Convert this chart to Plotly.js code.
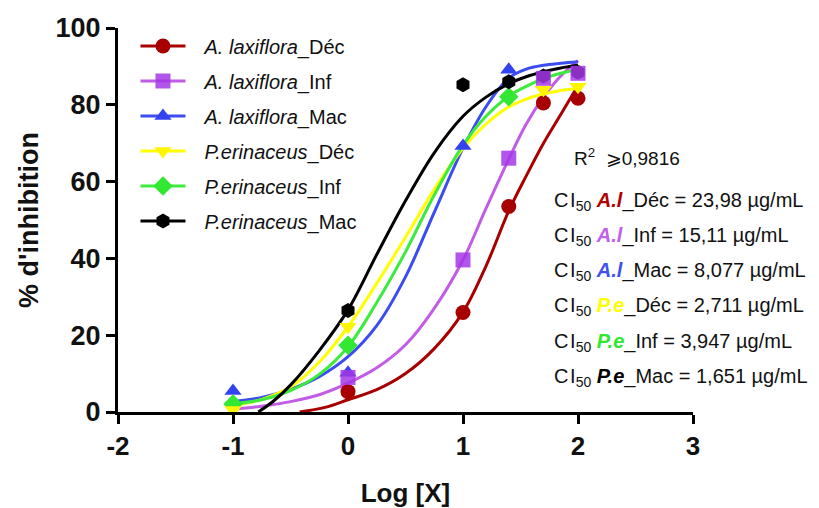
<!DOCTYPE html>
<html>
<head>
<meta charset="utf-8">
<script src="https://cdn.plot.ly/plotly-3.0.1.min.js"></script>
<style>html,body{margin:0;padding:0;background:#fff;}#chart{width:819px;height:508px;}</style>
</head>
<body>
<div id="chart"></div>
<script>
// Measured data points (log concentration)
const logX = [-1, 0, 1, 1.398, 1.699, 2];
const alDec = [null, 5.3, 25.9, 53.5, 80.5, 81.7];
const alInf = [null, 9.0, 39.6, 66.1, 86.9, 88.2];
const alMac = [5.5, 10.2, 69.3, 89.1, null, null];
const peDec = [0.5, 22.2, null, null, 83.9, 84.7];
const peInf = [2.1, 17.4, null, 82.1, null, null];
const peMac = [null, 26.4, 85.2, 86.0, 87.5, 88.5];

// Fitted curves
const curveX = [-1, -0.75, -0.5, -0.25, 0, 0.25, 0.5, 0.75, 1, 1.2, 1.4, 1.55, 1.7, 1.85, 2];
const redCurveX = [-0.42, -0.2, 0, 0.25, 0.5, 0.75, 1, 1.2, 1.4, 1.55, 1.7, 1.85, 2];
const blackCurveX = [-0.78, -0.65, -0.5, -0.25, 0, 0.25, 0.5, 0.75, 1, 1.2, 1.4, 1.55, 1.7, 1.85, 2];
const alDecCurve = [0, 1.2, 3.2, 5.8, 10, 16.5, 26, 38, 52.5, 61.5, 70, 77.5, 85];
const alInfCurve = [0.8, 1.5, 2.7, 4.5, 7.5, 11.5, 17.5, 27, 39.6, 53, 66, 75, 82, 87.5, 91.5];
const alMacCurve = [2.7, 3.8, 5.9, 9.2, 14.4, 22.5, 35.2, 52, 68.7, 79.5, 87, 89.3, 90.3, 90.8, 91.2];
const peDecCurve = [1.6, 3.3, 6.5, 13, 22.2, 33.5, 45.5, 58, 68.7, 75, 79.5, 81.5, 82.8, 83.7, 84.3];
const peInfCurve = [2.1, 3.2, 5.6, 9.8, 17, 28.5, 41.7, 56.5, 69.5, 77, 82.3, 84.8, 86.8, 88.2, 89.2];
const peMacCurve = [0, 2.8, 7, 16, 26.6, 41, 55, 67.5, 77, 82, 85.5, 87.3, 88.6, 89.6, 90.3];

const seriesNames = [
  '<i>A. laxiflora</i>_Déc', '<i>A. laxiflora</i>_Inf', '<i>A. laxiflora</i>_Mac',
  '<i>P.erinaceus</i>_Déc', '<i>P.erinaceus</i>_Inf', '<i>P.erinaceus</i>_Mac'
];
const ic50Labels = ['A.l', 'A.l', 'A.l', 'P.e', 'P.e', 'P.e'];
const ic50Parts = ['_Déc', '_Inf', '_Mac', '_Déc', '_Inf', '_Mac'];
const ic50Values = ['23,98', '15,11', '8,077', '2,711', '3,947', '1,651'];
const r2Text = '0,9816';

const lineColors = ['#A80000', '#C25BE6', '#3B4CF0', '#FFFF00', '#3DEB3D', '#000000'];
const markerColors = ['#A80000', 'rgba(165,55,230,0.85)', '#3343F0', '#FFF500', '#33E833', '#000000'];
const symbols = ['circle', 'square', 'triangle-up', 'triangle-down', 'diamond', 'hexagon'];
const textColors = ['#B00000', '#C060E8', '#4050F0', '#FFFF00', '#30E830', '#000000'];

const pts = [alDec, alInf, alMac, peDec, peInf, peMac];
const curvesY = [alDecCurve, alInfCurve, alMacCurve, peDecCurve, peInfCurve, peMacCurve];
const curvesX = [redCurveX, curveX, curveX, curveX, curveX, blackCurveX];

const traces = [];
// curves first (below the points)
for (let i = 0; i < 6; i++) {
  traces.push({
    x: curvesX[i], y: curvesY[i], mode: 'lines', type: 'scatter',
    line: {color: lineColors[i], width: 3, shape: 'spline', smoothing: 1},
    showlegend: false, hoverinfo: 'skip', legendgroup: 'g' + i, cliponaxis: false
  });
}
// points: isolated points separated by null so only markers are drawn, legend shows line+marker
const drawOrder = [0, 2, 4, 3, 5, 1];
drawOrder.forEach(i => {
  const xs = [], ys = [];
  logX.forEach((v, k) => { if (pts[i][k] !== null) { xs.push(v, null); ys.push(pts[i][k], null); } });
  traces.push({
    x: xs, y: ys, mode: 'lines+markers', type: 'scatter', connectgaps: false,
    name: '\u2002\u2009' + seriesNames[i], legendgroup: 'g' + i, legendrank: i + 1,
    line: {color: lineColors[i], width: 3},
    marker: {symbol: symbols[i], color: markerColors[i], size: 15, line: {width: 0}},
    cliponaxis: false
  });
});

const annotations = [];
annotations.push({
  xref: 'x', yref: 'y', x: 1.95, y: 66.4, xanchor: 'left', yanchor: 'middle', showarrow: false,
  text: 'R<sup>2</sup>  ⩾' + r2Text, font: {family: 'Liberation Sans, Arial', size: 19, color: '#111'}
});
const rowY = [54.9, 45.8, 36.7, 27.4, 18.2, 8.9];
for (let i = 0; i < 6; i++) {
  annotations.push({
    xref: 'x', yref: 'y', x: 1.77, y: rowY[i], xanchor: 'left', yanchor: 'middle', showarrow: false,
    text: 'C\u200aI<sub>50</sub> <b><i><span style="color:' + textColors[i] + '">' + ic50Labels[i] + '</span></i></b>' +
          ic50Parts[i] + ' = ' + ic50Values[i] + ' µg/mL',
    font: {family: 'Liberation Sans, Arial', size: 20, color: '#111'}
  });
}

const layout = {
  width: 819, height: 508,
  margin: {l: 118, r: 126, t: 28, b: 96},
  paper_bgcolor: '#fff', plot_bgcolor: '#fff',
  font: {family: 'Liberation Sans, Arial', color: '#000'},
  showlegend: true,
  legend: {
    x: 0.0304, y: 1.004, xanchor: 'left', yanchor: 'top',
    font: {family: 'Liberation Sans, Arial', size: 20, color: '#111'},
    tracegroupgap: 6, itemwidth: 45, bgcolor: 'rgba(0,0,0,0)', traceorder: 'grouped'
  },
  xaxis: {
    range: [-2, 3], tickvals: [-2, -1, 0, 1, 2, 3], ticktext: ['-2', '-1', '0', '1', '2', '3'],
    showgrid: false, zeroline: false, showline: true, linecolor: '#000', linewidth: 3,
    ticks: 'outside', ticklen: 9, tickwidth: 3, tickcolor: '#000',
    tickfont: {family: 'Liberation Sans, Arial', size: 26, color: '#111', weight: 'bold'},
    title: {text: '<b>Log [X]</b>', font: {family: 'Liberation Sans, Arial', size: 26, color: '#111'}, standoff: 24}
  },
  yaxis: {
    range: [0, 100], tickvals: [0, 20, 40, 60, 80, 100],
    showgrid: false, zeroline: false, showline: true, linecolor: '#000', linewidth: 3,
    ticks: 'outside', ticklen: 9, tickwidth: 3, tickcolor: '#000',
    tickfont: {family: 'Liberation Sans, Arial', size: 27, color: '#111', weight: 'bold'},
    title: {text: "<b>% d'inhibition</b>", font: {family: 'Liberation Sans, Arial', size: 27, color: '#111'}, standoff: 10}
  },
  annotations: annotations
};

Plotly.newPlot('chart', traces, layout, {staticPlot: true, displayModeBar: false});
</script>
</body>
</html>
